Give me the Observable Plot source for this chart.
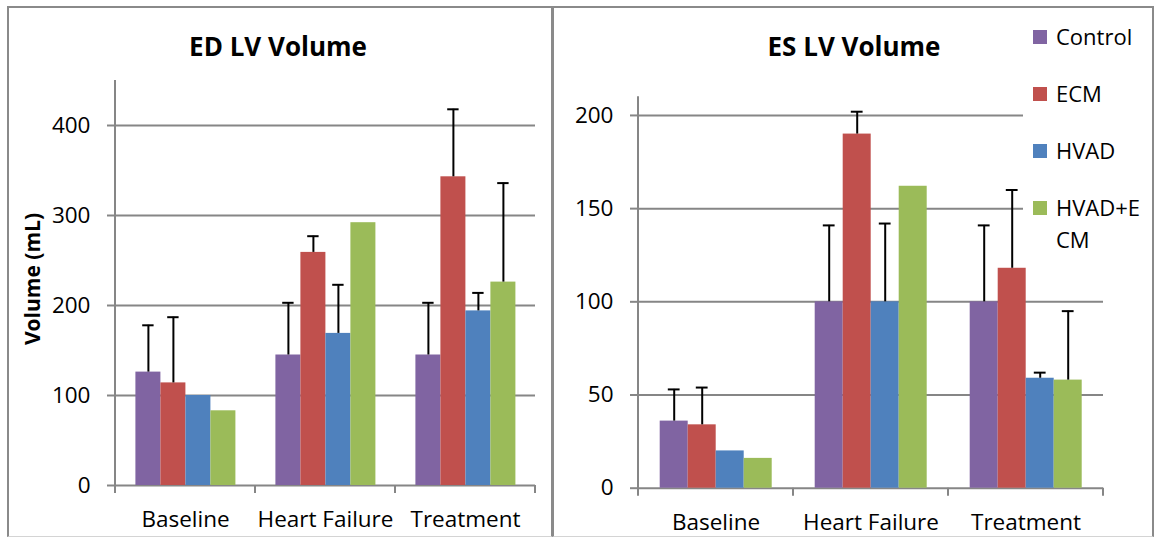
<!DOCTYPE html>
<html><head><meta charset="utf-8">
<script src="https://cdn.jsdelivr.net/npm/d3@7"></script>
<script src="https://cdn.jsdelivr.net/npm/@observablehq/plot@0.6"></script>
<style>
html,body{margin:0;padding:0;background:#fff;}
#root{position:relative;width:1154px;height:538px;overflow:hidden;font-family:"Open Sans",sans-serif;color:#000;}
.box{position:absolute;box-sizing:border-box;border:2px solid #8a8a8a;border-bottom:1px solid #d4d4d4;}
.chart{position:absolute;top:0;}
.title{position:absolute;font-weight:bold;font-size:26px;line-height:26px;transform:translateX(-50%);white-space:nowrap;}
.ylabel{position:absolute;font-weight:bold;font-size:21px;line-height:21px;white-space:nowrap;transform:translate(-50%,-50%) rotate(-90deg);}
.legend{position:absolute;background:#fff;}
.lg-sw{position:absolute;width:14px;height:14px;}
.lg-tx{position:absolute;font-size:22px;line-height:32px;width:92px;word-break:break-all;}
</style></head><body><div id="root"></div>
<script>
// ---- data ----
const categories = ["Baseline", "Heart Failure", "Treatment"];
const seriesNames = ["Control", "ECM", "HVAD", "HVAD+ECM"];
const seriesColors = ["#8064A2", "#C0504D", "#4F81BD", "#9BBB59"];

// ED LV Volume (mL): one row per series, values per category
const edMeans  = [[126, 145, 145], [114, 259, 343], [100, 169, 194], [83, 292, 226]];
const edErrors = [[52, 58, 58], [73, 18, 75], [null, 54, 20], [null, null, 110]];
const edTicks = [0, 100, 200, 300, 400];
const edMax = 450;

// ES LV Volume (mL)
const esMeans  = [[36, 100, 100], [34, 190, 118], [20, 100, 59], [16, 162, 58]];
const esErrors = [[17, 41, 41], [20, 12, 42], [null, 42, 3], [null, null, 37]];
const esTicks = [0, 50, 100, 150, 200];
const esMax = 210;

const titles = ["ED LV Volume", "ES LV Volume"];
const yLabel = "Volume (mL)";

// ---- drawing ----
const gray = "#868686";
const root = document.getElementById("root");

function el(cls, css, text) {
  const d = document.createElement("div");
  d.className = cls;
  Object.assign(d.style, css);
  if (text != null) d.textContent = text;
  root.appendChild(d);
  return d;
}

el("box", {left: "7px", top: "6px", width: "546px", height: "531px"});
el("box", {left: "552px", top: "6px", width: "602px", height: "531px"});

function makeChart({means, errors, ticks, yMax, left, width, height, margins, capInset}) {
  const rows = [];
  seriesNames.forEach((s, si) => categories.forEach((c, ci) =>
    rows.push({category: c, series: s, value: means[si][ci], error: errors[si][ci]})));
  const withErr = rows.filter(d => d.error != null);
  const chart = Plot.plot({
    width, height, ...margins,
    style: {background: "transparent", overflow: "visible", fontFamily: "'Open Sans', sans-serif", color: "#000"},
    fx: {domain: categories, padding: 0, axis: null},
    x: {domain: seriesNames, paddingInner: 0, paddingOuter: 0.75, axis: null},
    y: {domain: [0, yMax], axis: null},
    color: {domain: seriesNames, range: seriesColors},
    marks: [
      Plot.gridY(ticks, {stroke: gray, strokeOpacity: 1, strokeWidth: 2}),
      Plot.axisY(ticks, {tickSize: 8, tickPadding: 17, fontSize: 22.5, stroke: gray, strokeWidth: 2, fill: "#000", label: null, tickFormat: d => String(d)}),
      Plot.barY(rows, {fx: "category", x: "series", y: "value", fill: "series"}),
      Plot.ruleX(withErr, {fx: "category", x: "series", y1: "value", y2: d => d.value + d.error, stroke: "#000", strokeWidth: 2}),
      Plot.tickY(withErr, {fx: "category", x: "series", y: d => d.value + d.error, stroke: "#000", strokeWidth: 2, insetLeft: capInset, insetRight: capInset}),
      Plot.axisFx({anchor: "bottom", tickSize: 0, tickPadding: 26, fontSize: 22.5, fill: "#000", label: null})
    ]
  });
  const svgEl = chart.tagName.toLowerCase() === "svg" ? chart : chart.querySelector("svg");
  // axis line and category boundary ticks from the plot's own scales
  const fx = chart.scale("fx"), y = chart.scale("y");
  const y0 = y.apply(0), yTop = y.apply(yMax);
  const g = d3.select(svgEl).append("g").attr("stroke", gray).attr("stroke-width", 2);
  const xStart = fx.apply(categories[0]);
  g.append("line").attr("x1", xStart).attr("x2", xStart).attr("y1", yTop).attr("y2", y0 + 8);
  categories.forEach(c => {
    const xe = fx.apply(c) + fx.bandwidth;
    g.append("line").attr("x1", xe).attr("x2", xe).attr("y1", y0).attr("y2", y0 + 8);
  });
  const wrap = document.createElement("div");
  wrap.className = "chart";
  wrap.style.left = left + "px";
  wrap.appendChild(chart);
  root.appendChild(wrap);
}

makeChart({means: edMeans, errors: edErrors, ticks: edTicks, yMax: edMax,
  left: 0, width: 552, height: 538,
  margins: {marginLeft: 114.6, marginRight: 16.3, marginTop: 80, marginBottom: 53}, capInset: 6.8});
makeChart({means: esMeans, errors: esErrors, ticks: esTicks, yMax: esMax,
  left: 552, width: 602, height: 538,
  margins: {marginLeft: 85.3, marginRight: 50.7, marginTop: 96.3, marginBottom: 50.3}, capInset: 8.1});

el("title", {left: "278px", top: "33px"}, titles[0]);
el("title", {left: "854px", top: "33px"}, titles[1]);
el("ylabel", {left: "32px", top: "279px"}, yLabel);

el("legend", {left: "1023px", top: "14px", width: "128px", height: "248px"});
seriesNames.forEach((s, i) => {
  const cy = 36.5 + i * 57.2;
  el("lg-sw", {left: "1033px", top: (cy - 7) + "px", background: seriesColors[i]});
  el("lg-tx", {left: "1056px", top: (cy - 16.7) + "px"}, s);
});
</script></body></html>
